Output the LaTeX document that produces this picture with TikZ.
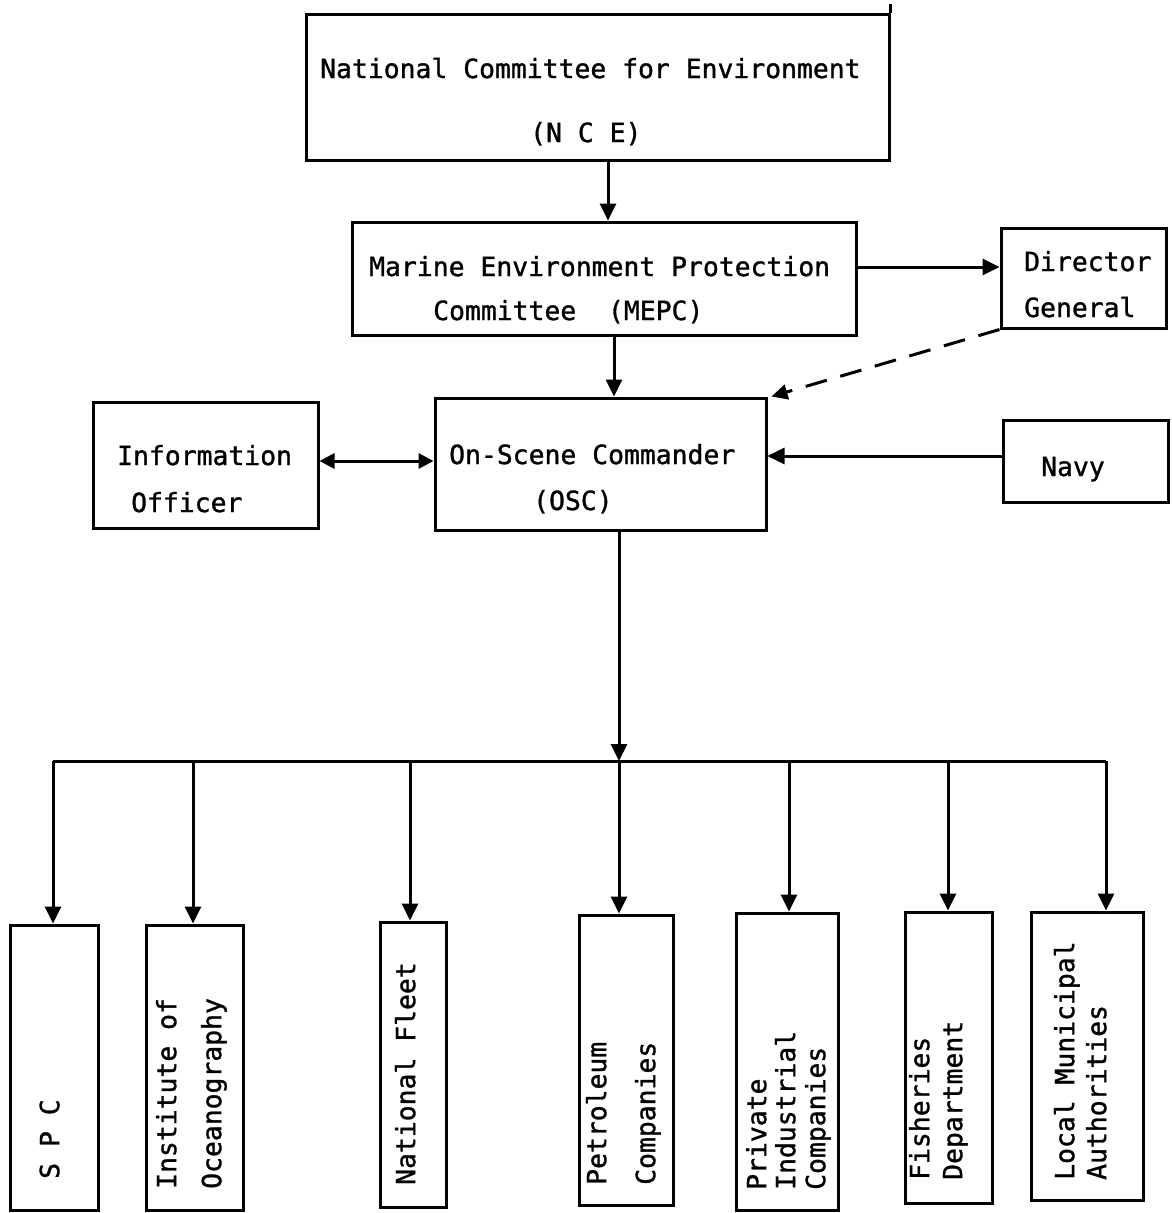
\documentclass[tikz,border=0pt]{standalone}
\usepackage{fontspec}
\setmonofont[FakeBold=1.2]{DejaVu Sans Mono}
\usetikzlibrary{arrows.meta}
\begin{document}
\begin{tikzpicture}[x=1pt,y=-1pt,
  box/.style={draw,line width=3pt,inner sep=0pt},
  lbl/.style={font=\ttfamily\fontsize{26.4}{30}\selectfont,inner sep=0pt,anchor=base west},
  vlbl/.style={font=\ttfamily\fontsize{26.4}{30}\selectfont,inner sep=0pt,anchor=mid west,rotate=90},
  line/.style={line width=3pt},
  conn/.style={line width=3pt,-{Triangle[length=17pt,width=16pt]}},
  biconn/.style={line width=3pt,{Triangle[length=15pt,width=15pt]}-{Triangle[length=15pt,width=15pt]}},
  dconn/.style={line width=3pt,dash pattern=on 22pt off 14pt,-{Triangle[length=16pt,width=15pt]}},
]
\useasboundingbox (0,0) rectangle (1172,1213);
% boxes
\node[box,minimum width=583pt,minimum height=146pt] (nce) at (597.5,87) {};
\node[box,minimum width=504pt,minimum height=113pt] (mepc) at (604,278.5) {};
\node[box,minimum width=165pt,minimum height=100pt] (dg) at (1083.5,278) {};
\node[box,minimum width=225pt,minimum height=126pt] (io) at (205.5,465) {};
\node[box,minimum width=331pt,minimum height=132pt] (osc) at (600.5,464) {};
\node[box,minimum width=165pt,minimum height=82pt] (navy) at (1085.5,461) {};
\node[box,minimum width=88pt,minimum height=285pt] (spc) at (54,1067.5) {};
\node[box,minimum width=97pt,minimum height=285pt] (inst) at (194.5,1067.5) {};
\node[box,minimum width=66pt,minimum height=285pt] (nf) at (413,1064.5) {};
\node[box,minimum width=94pt,minimum height=290pt] (pet) at (626,1060) {};
\node[box,minimum width=102pt,minimum height=297pt] (priv) at (787,1061.5) {};
\node[box,minimum width=87pt,minimum height=291pt] (fish) at (948.5,1057.5) {};
\node[box,minimum width=112pt,minimum height=288pt] (local) at (1087,1056) {};
\draw[line] (nce.north east) -- ++(0,-9);
% texts
\node[lbl] (t-nce1) at (320,78) {National Committee for Environment};
\node[lbl] (t-nce2) at (530,142) {(N C E)};
\node[lbl] (t-mepc1) at (369,276) {Marine Environment Protection};
\node[lbl] (t-mepc2) at (433,320) {Committee\ \ (MEPC)};
\node[lbl] (t-dg1) at (1024,271) {Director};
\node[lbl] (t-dg2) at (1024,317) {General};
\node[lbl] (t-io1) at (117,465) {Information};
\node[lbl] (t-io2) at (131,512) {Officer};
\node[lbl] (t-osc1) at (449,464) {On-Scene Commander};
\node[lbl] (t-osc2) at (533,510) {(OSC)};
\node[lbl] (t-navy) at (1041,476) {Navy};
\node[vlbl] (t-spc) at (57,1179) {S P C};
\node[vlbl] (t-inst1) at (174,1189) {Institute of};
\node[vlbl] (t-inst2) at (219,1189) {Oceanography};
\node[vlbl] (t-nf) at (413,1185) {National Fleet};
\node[vlbl] (t-pet1) at (604,1185) {Petroleum};
\node[vlbl] (t-pet2) at (653,1185) {Companies};
\node[vlbl] (t-priv1) at (764,1190) {Private};
\node[vlbl] (t-priv2) at (793,1190) {Industrial};
\node[vlbl] (t-priv3) at (823,1190) {Companies};
\node[vlbl] (t-fish1) at (927,1180) {Fisheries};
\node[vlbl] (t-fish2) at (960,1180) {Department};
\node[vlbl] (t-loc1) at (1072,1180) {Local Municipal};
\node[vlbl] (t-loc2) at (1104,1180) {Authorities};
% connectors
\coordinate (barL) at (53,761);
\coordinate (barR) at (1106,761);
\coordinate (barM) at (619,761);
\draw[conn] (nce.south -| 608,0) -- (mepc.north -| 608,0);
\draw[conn] (mepc.east |- 0,267) -- (dg.west |- 0,267);
\draw[conn] (mepc.south -| 614,0) -- (osc.north -| 614,0);
\draw[dconn] (dg.south west) -- ([xshift=4pt]osc.north east);
\draw[biconn] (io.east |- 0,461) -- (osc.west |- 0,461);
\draw[conn] (navy.west |- 0,456) -- (osc.east |- 0,456);
\draw[conn] (osc.south -| barM) -- (barM);
\draw[line] (barL) -- (barR);
\draw[conn] (barL) -- (barL |- spc.north);
\draw[conn] (barL -| 193,0) -- (inst.north -| 193,0);
\draw[conn] (barL -| 410,0) -- (nf.north -| 410,0);
\draw[conn] (barM) -- (barM |- pet.north);
\draw[conn] (barL -| 789,0) -- (priv.north -| 789,0);
\draw[conn] (barL -| 948,0) -- (fish.north -| 948,0);
\draw[conn] (barR) -- (barR |- local.north);
\end{tikzpicture}
\end{document}
